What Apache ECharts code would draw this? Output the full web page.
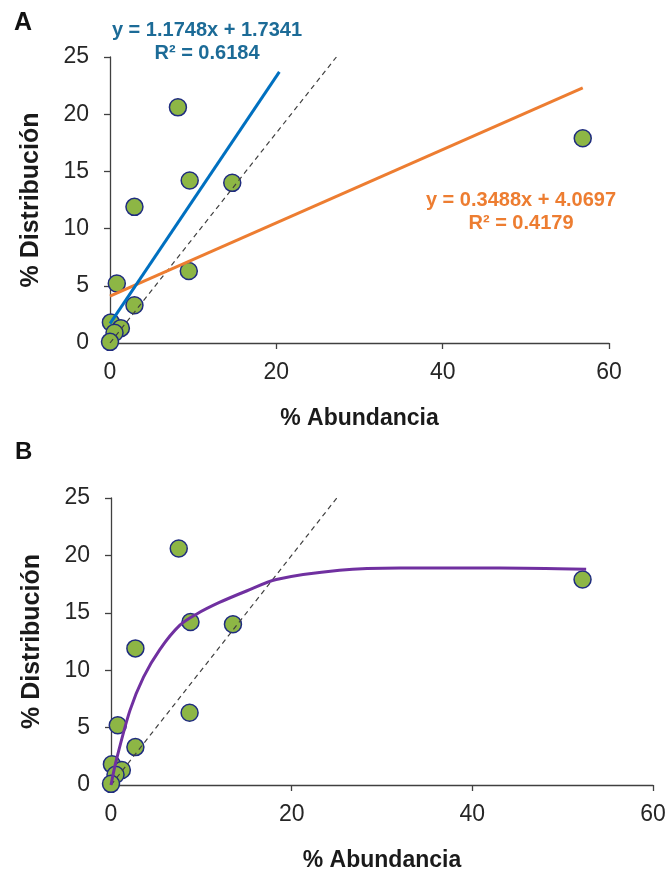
<!DOCTYPE html>
<html>
<head>
<meta charset="utf-8">
<script src="https://cdn.jsdelivr.net/npm/echarts@6/dist/echarts.min.js"></script>
<style>
  html, body { margin: 0; padding: 0; background: #fff; }
  #chart { width: 668px; height: 872px; }
</style>
</head>
<body>
<div id="chart"></div>
<script>
// datos
const abundancia = [7.5, 8.8, 13.5, 2.7, 0.75, 8.7, 2.7, 0.1, 1.2, 0.5, 0, 52.2]
const distribucion = [20.6, 14.2, 14.0, 11.9, 5.2, 6.3, 3.3, 1.8, 1.3, 0.9, 0.1, 17.9]

// línea 1:1 (punteada)
const lineaX = [0, 25]
const lineaY = [0, 25]

// tendencias lineales (panel A)
const azulX = [0, 18.7]
const azulY = [1.7, 23.7]
const naranjaX = [0, 52.2]
const naranjaY = [4.1, 22.3]

// curva ajustada (panel B)
const curvaX = [0, 0.6, 2.1, 3.6, 5.4, 7.6, 9.5, 12.0, 15.0, 18.3, 25.3, 32, 43, 52.6]
const curvaY = [0, 2.2, 6.5, 9.4, 11.8, 13.9, 14.9, 15.9, 16.9, 17.9, 18.7, 18.9, 18.9, 18.8]

const xTicks = [0, 20, 40, 60]
const yTicks = [0, 5, 10, 15, 20, 25]

const pares = (xs, ys) => xs.map((x, i) => [x, ys[i]])

const fuente = '"Liberation Sans", Arial, sans-serif'
const ejeColor = '#404040'

function ejeX (grid, titulo) {
  return {
    gridIndex: grid,
    type: 'value',
    min: xTicks[0],
    max: xTicks[xTicks.length - 1],
    interval: 20,
    name: titulo,
    nameLocation: 'middle',
    nameGap: 64,
    nameTextStyle: { fontFamily: fuente, fontSize: 23, fontWeight: 'bold', color: '#1a1a1a' },
    axisLine: { show: true, lineStyle: { color: ejeColor, width: 1.3 } },
    axisTick: { show: true, length: 6, lineStyle: { color: ejeColor, width: 1.3 } },
    axisLabel: { margin: 18, fontFamily: fuente, fontSize: 23, color: '#262626', showMinLabel: true, showMaxLabel: true },
    splitLine: { show: false }
  }
}

function ejeY (grid) {
  return {
    gridIndex: grid,
    type: 'value',
    min: yTicks[0],
    max: yTicks[yTicks.length - 1],
    interval: 5,
    name: '% Distribución',
    nameLocation: 'middle',
    nameGap: 66,
    nameTextStyle: { fontFamily: fuente, fontSize: 25, fontWeight: 'bold', color: '#1a1a1a' },
    axisLine: { show: true, lineStyle: { color: ejeColor, width: 1.3 } },
    axisTick: { show: true, length: 6, lineStyle: { color: ejeColor, width: 1.3 } },
    axisLabel: { margin: 21, fontFamily: fuente, fontSize: 23, color: '#262626', showMinLabel: true, showMaxLabel: true },
    splitLine: { show: false }
  }
}

const puntos = (xi, yi) => ({
  type: 'scatter',
  xAxisIndex: xi,
  yAxisIndex: yi,
  data: pares(abundancia, distribucion),
  symbolSize: 17,
  itemStyle: { color: '#8DB645', borderColor: '#1F2C7F', borderWidth: 1.5, opacity: 1 },
  z: 2
})

const linea = (xi, yi, data, color, width, dash, smooth) => ({
  type: 'line',
  xAxisIndex: xi,
  yAxisIndex: yi,
  data: data,
  symbol: 'none',
  smooth: smooth || false,
  lineStyle: { color: color, width: width, type: dash || 'solid' },
  z: 3
})

const myChart = echarts.init(document.getElementById('chart'), null, { renderer: 'canvas' })

myChart.setOption({
  animation: false,
  grid: [
    { left: 110, top: 57, width: 499, height: 286, outerBoundsMode: 'none' },
    { left: 111, top: 498, width: 542, height: 287, outerBoundsMode: 'none' }
  ],
  xAxis: [
    ejeX(0, '% Abundancia'),
    // escala real de los datos del panel A
    { gridIndex: 0, type: 'value', min: 0, max: 55.1, show: false },
    ejeX(1, '% Abundancia')
  ],
  yAxis: [ejeY(0), ejeY(1)],
  graphic: [
    { type: 'text', left: 14, top: 11, style: { text: 'A', font: 'bold 25px ' + fuente, fill: '#111' } },
    { type: 'text', left: 15, top: 440, style: { text: 'B', font: 'bold 24px ' + fuente, fill: '#111' } },
    { type: 'text', x: 207, y: 30, style: { text: 'y = 1.1748x + 1.7341', font: 'bold 20px ' + fuente, fill: '#1C6B97', align: 'center', verticalAlign: 'middle' } },
    { type: 'text', x: 207, y: 53, style: { text: 'R² = 0.6184', font: 'bold 20px ' + fuente, fill: '#1C6B97', align: 'center', verticalAlign: 'middle' } },
    { type: 'text', x: 521, y: 200, style: { text: 'y = 0.3488x + 4.0697', font: 'bold 20px ' + fuente, fill: '#ED7D31', align: 'center', verticalAlign: 'middle' } },
    { type: 'text', x: 521, y: 223, style: { text: 'R² = 0.4179', font: 'bold 20px ' + fuente, fill: '#ED7D31', align: 'center', verticalAlign: 'middle' } }
  ],
  series: [
    // panel A
    puntos(1, 0),
    linea(1, 0, pares(lineaX, lineaY), '#404040', 1.2, [5, 4]),
    linea(1, 0, pares(naranjaX, naranjaY), '#ED7D31', 3),
    linea(1, 0, pares(azulX, azulY), '#0070C0', 3),
    // panel B
    puntos(2, 1),
    linea(2, 1, pares(lineaX, lineaY), '#404040', 1.2, [5, 4]),
    linea(2, 1, pares(curvaX, curvaY), '#7030A0', 3, 'solid', 0.3)
  ]
})
</script>
</body>
</html>
